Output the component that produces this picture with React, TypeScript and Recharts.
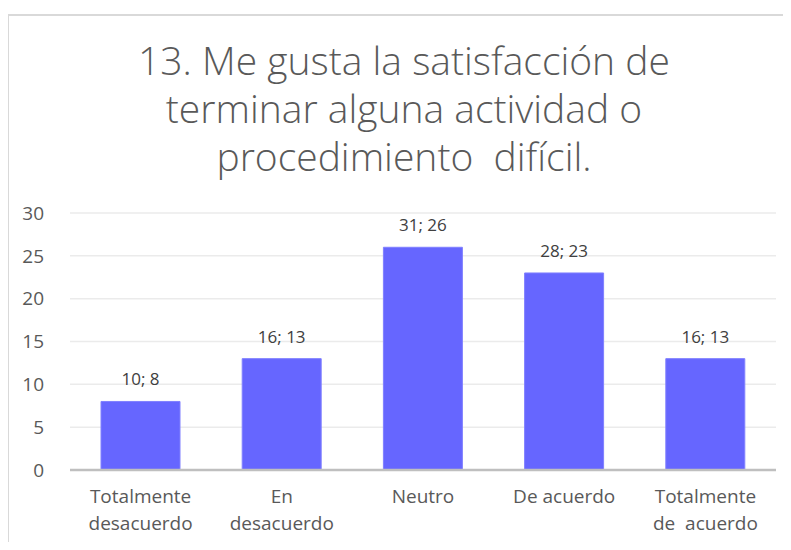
import React from 'react';
import { BarChart, Bar, XAxis, YAxis, CartesianGrid, LabelList } from 'recharts';

const categories = ['Totalmente\ndesacuerdo', 'En\ndesacuerdo', 'Neutro', 'De acuerdo', 'Totalmente\nde  acuerdo'];
const percents = [10, 16, 31, 28, 16];
const counts = [8, 13, 26, 23, 13];
const yTicks = [0, 5, 10, 15, 20, 25, 30];
const titleLines = ['13. Me gusta la satisfacción de', 'terminar alguna actividad o', 'procedimiento  difícil.'];

const data = categories.map((c, i) => ({ name: c, value: counts[i], pct: percents[i] }));

const FONT = '"Open Sans", "Liberation Sans", sans-serif';

function CatTick(props: any) {
  const { x, y, payload } = props;
  const lines = String(payload.value).split('\n');
  return (
    <text x={x} y={y} textAnchor="middle" fill="#595959" fontSize={19} fontFamily={FONT} style={{ whiteSpace: 'pre' }}>
      {lines.map((l, i) => (
        <tspan key={i} x={x} dy={i === 0 ? 25 : 27}>{l}</tspan>
      ))}
    </text>
  );
}

function BarLabel(props: any) {
  const { x, y, width, index } = props;
  return (
    <text x={x + width / 2} y={y - 16} textAnchor="middle" fill="#404040" fontSize={17} fontFamily={FONT}>
      {`${percents[index]}; ${counts[index]}`}
    </text>
  );
}

export default function App() {
  return (
    <div style={{ position: 'relative', width: 791, height: 550, margin: -8, background: '#fff', overflow: 'hidden' }}>
      <div style={{ position: 'absolute', left: 7, top: 14, width: 800, height: 560, border: '2px solid #d9d9d9', boxSizing: 'border-box' }} />
      <div style={{ position: 'absolute', left: 7, top: 36, width: 794, textAlign: 'center', fontFamily: FONT, fontWeight: 300, fontSize: 39, lineHeight: '48px', color: '#595959' }}>
        {titleLines.map((t, i) => (
          <div key={i} style={{ whiteSpace: 'pre' }}>{t}</div>
        ))}
      </div>
      <div style={{ position: 'absolute', left: 0, top: 0 }}>
        <BarChart width={791} height={550} data={data} margin={{ top: 213, right: 15, bottom: 0, left: 20 }}>
          <CartesianGrid vertical={false} stroke="#ebebeb" strokeWidth={1.5} />
          <XAxis dataKey="name" interval={0} tick={<CatTick />} tickLine={false} axisLine={{ stroke: '#bfbfbf', strokeWidth: 2.5 }} height={80} />
          <YAxis domain={[0, 30]} ticks={yTicks} width={50} tickLine={false} axisLine={false} tickMargin={20}
            tick={{ fill: '#595959', fontSize: 19, fontFamily: FONT }} />
          <Bar dataKey="value" fill="#6666ff" stroke="#8080ff" strokeWidth={1} barSize={79} isAnimationActive={false}>
            <LabelList dataKey="value" content={<BarLabel />} />
          </Bar>
        </BarChart>
      </div>
    </div>
  );
}
